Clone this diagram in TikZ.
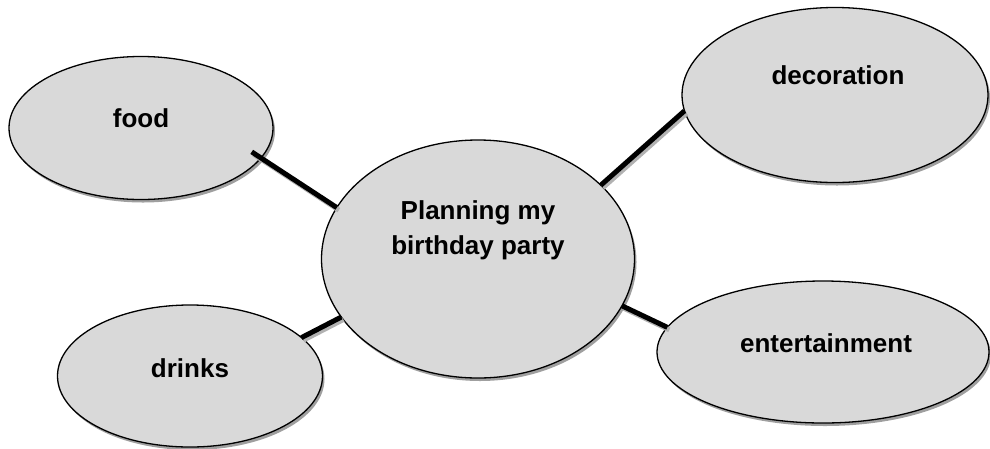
\documentclass[tikz,border=0pt]{standalone}
\usepackage{fontspec}
\setmainfont{Liberation Sans}
\usetikzlibrary{shapes.geometric,shadows}
\begin{document}
	\begin{tikzpicture}[x=1pt, y=1pt,
		bubble/.style={ellipse, draw=black, line width=1.3pt, fill=gray!30, inner sep=0pt, outer sep=0pt, drop shadow={shadow xshift=2pt, shadow yshift=-3pt, fill=gray!75, opacity=1}},
		link/.style={line width=5pt, preaction={draw=gray!60, line width=5pt, transform canvas={xshift=2pt, yshift=-2.5pt}}},
		word/.style={font=\bfseries\fontsize{26}{35}\selectfont, align=center, inner sep=0pt}]
		\useasboundingbox (0,0) rectangle (990,-448);
		\node[bubble, minimum width=264, minimum height=143](food) at (141,-128){};
		\node[bubble, minimum width=306, minimum height=175](deco) at (835,-95){};
		\node[bubble, minimum width=265, minimum height=142](drinks) at (190,-376){};
		\node[bubble, minimum width=332, minimum height=142](fun) at (823,-352){};
		\node[bubble, minimum width=313, minimum height=238](party) at (478,-259){};
		\draw[link, shorten <=-11pt] (food.-14) -- (party.160.6);
		\draw[link] (deco.186.8) -- (party.31);
		\draw[link] (drinks.19.9) -- (party.203.4);
		\draw[link] (fun.171.2) -- (party.-18.4);
		\node[word](foodtext) at ([yshift=10]food.center){food};
		\node[word](decotext) at ([xshift=3, yshift=20]deco.center){decoration};
		\node[word](drinkstext) at ([yshift=8]drinks.center){drinks};
		\node[word](funtext) at ([xshift=3, yshift=9]fun.center){entertainment};
		\node[word](partytext) at ([yshift=29]party.center){Planning my\\birthday party};
	\end{tikzpicture}
\end{document}
